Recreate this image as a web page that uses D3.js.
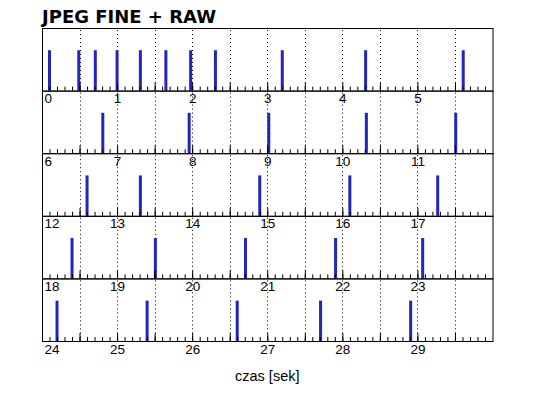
<!DOCTYPE html>
<html>
<head>
<meta charset="utf-8">
<script src="https://cdn.jsdelivr.net/npm/d3@7"></script>
<style>
body { margin: 0; background: #fff; }
</style>
</head>
<body>
<div class="chart"></div>
<script>
// czasy wykonania zdjęć [s]
var shotTimes = [0.10, 0.49, 0.71, 1.00, 1.31, 1.65, 1.98, 2.31, 3.20, 4.31, 5.61,
    6.81, 7.96, 9.02, 10.32, 11.51,
    12.60, 13.31, 14.90, 16.10, 17.27,
    18.40, 19.51, 20.71, 21.91, 23.07,
    24.20, 25.40, 26.60, 27.71, 28.91];
var panelStarts = [0, 6, 12, 18, 24];
var panelSpan = 6;
var title = "JPEG FINE + RAW";
var xLabel = "czas [sek]";

var width = 538;
var height = 398;
var padding = { "left": 42, "right": 45.5, "top": 28, "bottom": 57 };
var panelH = (height - padding.top - padding.bottom) / panelStarts.length;

var svg = d3.select(".chart")
    .append("svg")
    .attr("width", width)
    .attr("height", height);

var x = d3.scaleLinear()
    .domain([0, panelSpan])
    .range([padding.left, width - padding.right]);
var y = d3.scaleLinear()
    .domain([0, 1.55])
    .range([panelH, 0]);

svg.append("text")
    .attr("x", padding.left)
    .attr("y", 23)
    .attr("font-family", "DejaVu Sans")
    .attr("font-weight", "bold")
    .attr("font-size", 18)
    .text(title);

panelStarts.forEach(function (start, p) {
    var g = svg.append("g")
        .attr("transform", "translate(0," + (padding.top + p * panelH) + ")");

    // linie pomocnicze co 0.5 s
    g.selectAll("line.grid")
        .data(d3.range(1, panelSpan * 2).map(function (d) { return d / 2; }))
        .enter()
        .append("line")
        .attr("class", "grid")
        .attr("x1", function (d) { return Math.round(x(d)) + 0.5; })
        .attr("x2", function (d) { return Math.round(x(d)) + 0.5; })
        .attr("y1", 2)
        .attr("y2", panelH)
        .attr("stroke", "#000")
        .attr("stroke-dasharray", "1,3");

    // słupki
    var shots = shotTimes.filter(function (t) { return t >= start && t < start + panelSpan; });
    g.selectAll("rect")
        .data(shots)
        .enter()
        .append("rect")
        .attr("x", function (d) { return x(d - start) - 1.5; })
        .attr("y", y(1))
        .attr("width", 3)
        .attr("height", y(0) - y(1))
        .attr("fill", "#2424bf");

    // podziałka: drobna i główna
    var minor = d3.axisBottom(x)
        .tickValues(d3.range(1, panelSpan * 10).map(function (d) { return d / 10; }))
        .tickSize(-4)
        .tickFormat("");
    var major = d3.axisBottom(x)
        .tickValues(d3.range(1, panelSpan * 2).map(function (d) { return d / 2; }))
        .tickSize(-8)
        .tickFormat("");
    [minor, major].forEach(function (ax) {
        var a = g.append("g")
            .attr("transform", "translate(0," + panelH + ")")
            .call(ax);
        a.select(".domain").remove();
        a.selectAll("line").attr("stroke", "#000");
    });

    // etykiety
    var labels = g.append("g")
        .attr("transform", "translate(0," + panelH + ")")
        .call(d3.axisBottom(x)
            .tickValues(d3.range(0, panelSpan))
            .tickSize(0)
            .tickPadding(3)
            .tickFormat(function (d) { return d + start; }));
    labels.select(".domain").remove();
    labels.selectAll("text")
        .attr("font-family", "Liberation Sans")
        .attr("font-size", 13.5)
        .attr("fill", "#000")
        .filter(function (d) { return d === 0; })
        .attr("text-anchor", "start")
        .attr("x", 2);

    g.append("rect")
        .attr("x", padding.left + 0.5)
        .attr("y", 0.5)
        .attr("width", width - padding.right - padding.left)
        .attr("height", panelH)
        .attr("fill", "none")
        .attr("stroke", "#000");
});

svg.append("text")
    .attr("x", (padding.left + width - padding.right) / 2)
    .attr("y", 381)
    .attr("text-anchor", "middle")
    .attr("font-family", "Liberation Sans")
    .attr("font-size", 14.5)
    .text(xLabel);
</script>
</body>
</html>
